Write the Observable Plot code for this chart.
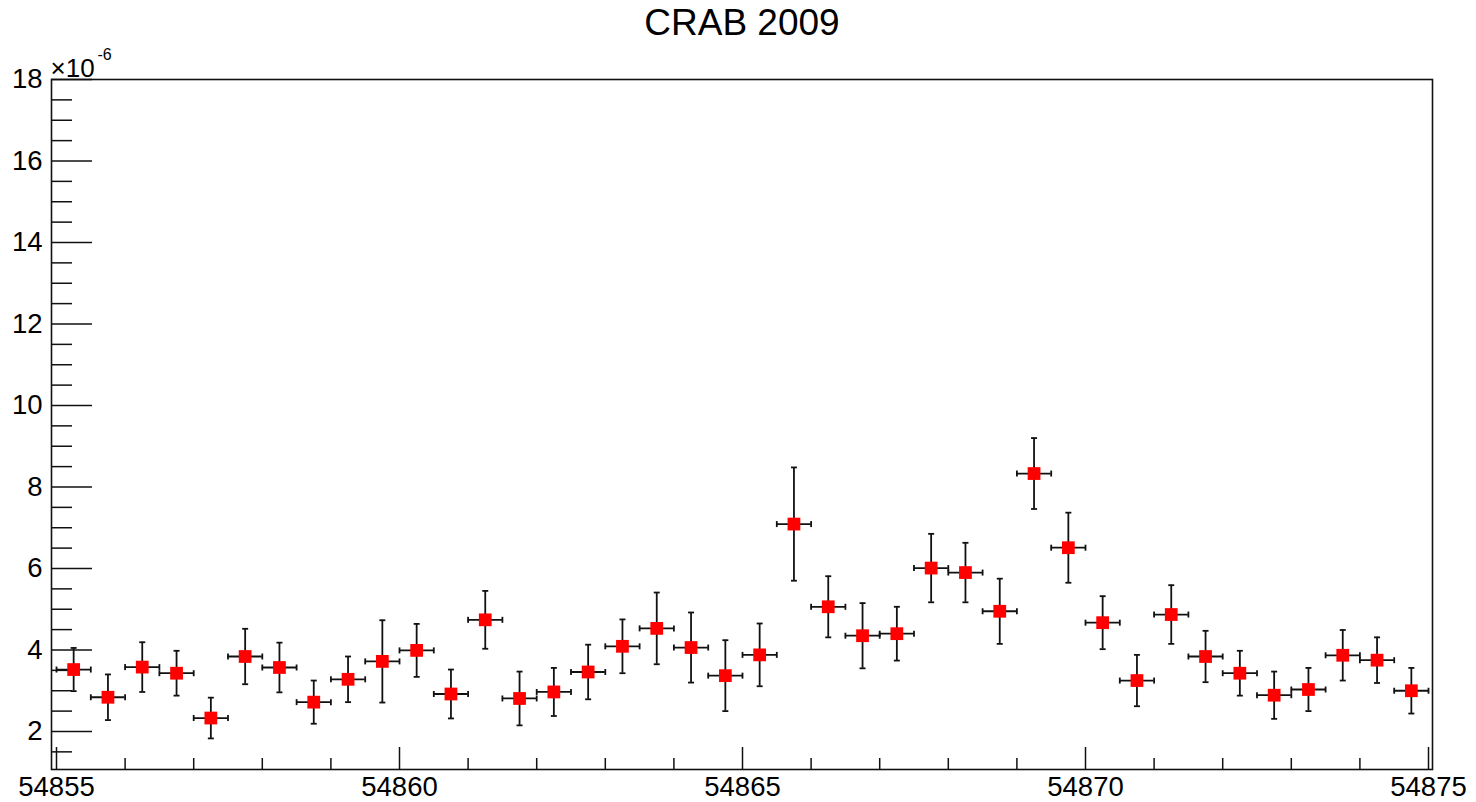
<!DOCTYPE html>
<html>
<head>
<meta charset="utf-8">
<script src="https://cdn.jsdelivr.net/npm/d3@7"></script>
<script src="https://cdn.jsdelivr.net/npm/@observablehq/plot@0.6"></script>
<style>
  html, body { margin: 0; padding: 0; background: #fff; }
  #title { width: 1476px; height: 45px; line-height: 45px; text-align: center;
           font-family: "Liberation Sans", Arial, Helvetica, sans-serif; font-size: 37px; color: #000;
           transform: translateX(4px); }
</style>
</head>
<body>
<div id="title">CRAB 2009</div>
<div id="chart"></div>
<script>
// Bin centres (MJD)
const mjd = [54855.25, 54855.75, 54856.25, 54856.75, 54857.25, 54857.75, 54858.25, 54858.75,
             54859.25, 54859.75, 54860.25, 54860.75, 54861.25, 54861.75, 54862.25, 54862.75,
             54863.25, 54863.75, 54864.25, 54864.75, 54865.25, 54865.75, 54866.25, 54866.75,
             54867.25, 54867.75, 54868.25, 54868.75, 54869.25, 54869.75, 54870.25, 54870.75,
             54871.25, 54871.75, 54872.25, 54872.75, 54873.25, 54873.75, 54874.25, 54874.75];
// Half bin width (days)
const mjdErr = [0.25, 0.25, 0.25, 0.25, 0.25, 0.25, 0.25, 0.25, 0.25, 0.25,
                0.25, 0.25, 0.25, 0.25, 0.25, 0.25, 0.25, 0.25, 0.25, 0.25,
                0.25, 0.25, 0.25, 0.25, 0.25, 0.25, 0.25, 0.25, 0.25, 0.25,
                0.25, 0.25, 0.25, 0.25, 0.25, 0.25, 0.25, 0.25, 0.25, 0.25];
// Flux (x 1e-6)
const flux = [3.52, 2.84, 3.58, 3.43, 2.33, 3.84, 3.57, 2.72, 3.28, 3.72,
              3.99, 2.92, 4.74, 2.81, 2.97, 3.46, 4.09, 4.53, 4.06, 3.37,
              3.88, 7.09, 5.06, 4.35, 4.40, 6.01, 5.90, 4.95, 8.33, 6.51,
              4.67, 3.25, 4.87, 3.84, 3.43, 2.89, 3.03, 3.87, 3.75, 3.00];
// Flux error (x 1e-6)
const fluxErr = [0.53, 0.56, 0.61, 0.55, 0.50, 0.68, 0.61, 0.53, 0.56, 1.01,
                 0.65, 0.60, 0.71, 0.66, 0.59, 0.67, 0.66, 0.88, 0.86, 0.87,
                 0.77, 1.39, 0.75, 0.80, 0.66, 0.84, 0.73, 0.80, 0.87, 0.86,
                 0.65, 0.63, 0.72, 0.63, 0.55, 0.58, 0.53, 0.62, 0.56, 0.56];

const xMajor = [54855, 54860, 54865, 54870, 54875];
const xMinor = d3.range(54855, 54876, 1).filter(v => !xMajor.includes(v));
const yMajor = [2, 4, 6, 8, 10, 12, 14, 16, 18];
const yMinor = d3.range(1.5, 18, 0.5).filter(v => !yMajor.includes(v));

const data = mjd.map((x, i) => ({x, ex: mjdErr[i], y: flux[i], ey: fluxErr[i]}));

const W = 1476, H = 757;
const mt = 34, mb = 33, ml = 51, mr = 44;
const plotW = W - ml - mr, plotH = H - mt - mb;
const ink = "#111";

const hCap = {draw(ctx) { ctx.moveTo(-3, 0); ctx.lineTo(3, 0); }};
const vCap = {draw(ctx) { ctx.moveTo(0, -3); ctx.lineTo(0, 3); }};

const chart = Plot.plot({
  width: W, height: H,
  marginTop: mt, marginBottom: mb, marginLeft: ml, marginRight: mr,
  style: {fontFamily: "'Liberation Sans', Arial, Helvetica, sans-serif", fontSize: "27px", color: "#000", background: "#fff"},
  x: {domain: [54854.9271, 54875.0583], label: null},
  y: {domain: [1.067, 18.0], label: null},
  marks: [
    // tick marks (ROOT style, inside the frame)
    Plot.ruleX(xMajor, {x: d => d, insetTop: plotH - 22, stroke: ink, strokeWidth: 1.5}),
    Plot.ruleX(xMinor, {x: d => d, insetTop: plotH - 11, stroke: ink, strokeWidth: 1.5}),
    Plot.ruleY(yMajor, {y: d => d, insetRight: plotW - 41, stroke: ink, strokeWidth: 1.5}),
    Plot.ruleY(yMinor, {y: d => d, insetRight: plotW - 21, stroke: ink, strokeWidth: 1.5}),
    Plot.axisX({ticks: xMajor, tickSize: 0, tickPadding: 7, tickFormat: d => `${d}`, fontSize: 27.5, label: null}),
    Plot.axisY({ticks: yMajor, tickSize: 0, tickPadding: 9, tickFormat: d => `${d}`, fontSize: 27.5, label: null}),
    Plot.frame({stroke: ink, strokeWidth: 1.6}),
    // exponent label
    Plot.text(["×10"], {frameAnchor: "top-left", textAnchor: "start", lineAnchor: "bottom", dx: -1, dy: -3, fontSize: 26, fill: "#000"}),
    Plot.text(["-6"], {frameAnchor: "top-left", textAnchor: "start", lineAnchor: "bottom", dx: 46, dy: -20, fontSize: 16, fill: "#000"}),
    // error bars
    Plot.ruleX(data, {x: "x", y1: d => d.y - d.ey, y2: d => d.y + d.ey, stroke: ink, strokeWidth: 1.8}),
    Plot.ruleY(data, {y: "y", x1: d => d.x - d.ex, x2: d => d.x + d.ex, stroke: ink, strokeWidth: 1.8}),
    Plot.dot(data, {x: "x", y: d => d.y + d.ey, symbol: hCap, stroke: ink, fill: "none", strokeWidth: 1.8}),
    Plot.dot(data, {x: "x", y: d => d.y - d.ey, symbol: hCap, stroke: ink, fill: "none", strokeWidth: 1.8}),
    Plot.dot(data, {x: d => d.x - d.ex, y: "y", symbol: vCap, stroke: ink, fill: "none", strokeWidth: 1.8}),
    Plot.dot(data, {x: d => d.x + d.ex, y: "y", symbol: vCap, stroke: ink, fill: "none", strokeWidth: 1.8}),
    // markers
    Plot.dot(data, {x: "x", y: "y", symbol: "square", r: 7.2, fill: "#ff0000", stroke: "none"})
  ]
});
document.getElementById("chart").appendChild(chart);
</script>
</body>
</html>
